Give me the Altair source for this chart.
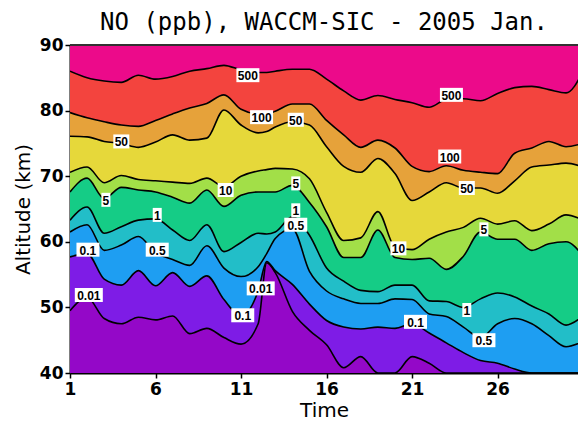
import altair as alt
import pandas as pd

# ---------------- data ----------------
days = [1, 2, 3, 4, 5, 6, 7, 8, 9, 10, 11, 12, 12.5, 13, 14, 15, 16, 17, 18, 19,
        20, 21, 22, 23, 24, 25, 26, 27, 28, 29, 30, 31]

# altitude (km) of each NO contour level along the time axis
c001 = [49.5, 51.5, 48.3, 47.5, 48.5, 48.1, 48.7, 46.0, 46.8, 45.4, 44.4, 47.5, 56.8,
        55.3, 49.4, 46.5, 44.3, 40.8, 42.5, 40.0, 40.0, 42.5, 41.5, 40.0, 40.0, 40.0,
        40.0, 40.0, 40.0, 40.0, 40.0, 40.0]
c01 = [57.7, 58.2, 54.3, 53.4, 55.6, 53.3, 55.3, 53.2, 54.8, 51.2, 48.7, 52.5, 57.0,
       55.6, 53.5, 50.5, 48.0, 47.0, 46.7, 47.0, 46.8, 47.5, 46.1, 44.6, 43.1, 41.9,
       41.5, 40.6, 40.0, 40.0, 40.0, 40.0]
c05 = [61.5, 62.6, 58.7, 59.5, 60.8, 58.3, 57.3, 56.4, 59.4, 56.0, 54.7, 56.2, 58.2,
       60.5, 62.0, 55.5, 52.5, 51.3, 50.6, 50.6, 51.3, 51.2, 49.0, 48.6, 47.0, 45.4,
       47.5, 48.3, 47.5, 45.7, 44.0, 44.8]
c1 = [63.3, 65.3, 61.3, 62.3, 63.3, 63.5, 61.8, 60.2, 62.6, 58.5, 59.9, 61.3, 61.2,
      61.5, 63.8, 61.0, 56.0, 54.0, 52.6, 52.4, 53.4, 53.4, 51.0, 50.9, 50.0, 51.3,
      52.2, 51.6, 50.2, 49.0, 47.3, 48.7]
c5 = [67.6, 69.7, 66.6, 68.3, 67.9, 67.6, 66.8, 65.9, 67.9, 65.4, 67.1, 67.6, 67.6,
      67.6, 68.6, 66.0, 62.3, 57.6, 57.6, 61.8, 57.6, 57.3, 57.5, 55.8, 57.8, 61.5,
      60.4, 60.4, 58.7, 59.7, 60.0, 57.8]
c10 = [70.6, 71.4, 69.0, 70.1, 69.5, 69.3, 69.1, 68.9, 69.7, 68.4, 70.0, 70.8, 71.0,
       71.2, 71.1, 69.6, 64.5, 60.2, 60.6, 64.6, 59.2, 58.8, 60.4, 61.5, 62.2, 63.6,
       62.7, 63.2, 61.7, 62.7, 64.1, 63.3]
c50 = [76.1, 76.0, 75.3, 75.0, 74.4, 75.2, 76.3, 75.5, 75.8, 80.1, 77.8, 76.6, 76.8,
       77.5, 78.3, 77.8, 74.5, 71.5, 70.6, 72.7, 70.4, 66.3, 67.6, 69.0, 68.2, 68.2,
       67.4, 69.3, 71.4, 71.7, 72.0, 71.4]
c100 = [79.7, 78.9, 78.3, 77.8, 77.6, 78.5, 79.5, 80.4, 81.1, 82.4, 80.2, 79.5, 79.5,
        79.9, 81.0, 81.0, 78.5, 76.3, 74.4, 75.5, 74.3, 71.5, 70.7, 71.6, 70.9, 70.6,
        70.4, 73.5, 74.3, 75.3, 74.5, 75.0]
c500 = [86.0, 85.0, 84.5, 84.3, 85.4, 84.8, 85.2, 86.0, 86.4, 86.9, 86.2, 85.8, 85.8,
        86.0, 86.3, 86.3, 84.8, 83.0, 81.6, 82.3, 81.7, 81.2, 80.5, 81.7, 81.8, 81.5,
        82.6, 83.5, 83.7, 83.2, 82.7, 86.0]

levels = ["0.01", "0.1", "0.5", "1", "5", "10", "50", "100", "500"]
band_colors = ["#9408C8", "#7E1CE6", "#1E9EF2", "#22BEC8", "#15CC86",
               "#A2DF48", "#E6D83A", "#E6A23A", "#F3443E", "#EC0A8A"]

alt_min, alt_max = 40, 90
x_ticks = [1, 6, 11, 16, 21, 26]
y_ticks = [40, 50, 60, 70, 80, 90]

# contour labels: text, day, altitude
lab_text = ["500", "500", "100", "50", "50", "100", "50", "10", "5", "5", "1", "1",
            "0.5", "0.1", "0.5", "0.01", "0.01", "0.1", "10", "5", "1", "0.1", "0.5"]
lab_day = [11.4, 23.3, 12.2, 14.2, 4.0, 23.2, 24.2, 10.1, 3.1, 14.2, 6.1, 14.2,
           14.2, 2.05, 6.1, 2.1, 12.15, 11.1, 20.2, 25.2, 24.2, 21.2, 25.2]
lab_alt = [85.4, 82.4, 79.0, 78.6, 75.3, 73.0, 68.2, 67.9, 66.4, 68.9, 64.1, 64.8,
           62.6, 58.8, 58.8, 51.9, 52.9, 48.8, 59.0, 61.9, 49.6, 47.8, 45.0]

# ---------------- tables ----------------
contours = [c001, c01, c05, c1, c5, c10, c50, c100, c500]
bounds = [[alt_min] * len(days)] + contours + [[alt_max] * len(days)]
area_rows = []
for i in range(len(bounds) - 1):
    for d, lo, hi in zip(days, bounds[i], bounds[i + 1]):
        area_rows.append({"day": d, "lo": lo, "hi": hi, "band": i})
area_df = pd.DataFrame(area_rows)

line_rows = []
for lev, vals in zip(levels, contours):
    for d, a in zip(days, vals):
        line_rows.append({"day": d, "alt": a, "level": lev})
line_df = pd.DataFrame(line_rows)

lab_df = pd.DataFrame({"text": lab_text, "day": lab_day, "alt": lab_alt})
lab_df["n"] = lab_df["text"].str.len()

W, H = 508, 328

xscale = alt.Scale(domain=[1, 30.7], nice=False, zero=False)
yscale = alt.Scale(domain=[alt_min, alt_max], nice=False, zero=False)

xaxis = alt.Axis(values=x_ticks, title="Time", grid=False, labelFont="DejaVu Sans",
                 labelFontWeight="bold", labelFontSize=17, labelColor="black",
                 titleFont="DejaVu Sans", titleFontWeight="normal", titleFontSize=20,
                 titleColor="black", tickSize=5, tickWidth=1.5, tickColor="black",
                 domainColor="black", domainWidth=2, labelPadding=3, titlePadding=3,
                 labelFlush=False)
yaxis = alt.Axis(values=y_ticks, title="Altitude (km)", grid=False,
                 labelFont="DejaVu Sans", labelFontWeight="bold", labelFontSize=17,
                 labelColor="black", titleFont="DejaVu Sans", titleFontWeight="normal",
                 titleFontSize=20, titleColor="black", tickSize=5, tickWidth=1.5,
                 tickColor="black", domainColor="black", domainWidth=2,
                 labelPadding=2, titlePadding=6, labelFlush=False)

areas = alt.Chart(area_df).mark_area(interpolate="monotone", clip=True).encode(
    x=alt.X("day:Q", scale=xscale, axis=xaxis),
    y=alt.Y("lo:Q", scale=yscale, axis=yaxis),
    y2="hi:Q",
    color=alt.Color("band:N", scale=alt.Scale(domain=list(range(10)), range=band_colors),
                    legend=None),
)

lines = alt.Chart(line_df).mark_line(interpolate="monotone", color="black",
                                     strokeWidth=1.6, clip=True).encode(
    x=alt.X("day:Q", scale=xscale),
    y=alt.Y("alt:Q", scale=yscale),
    detail="level:N",
)

box_layers = []
for n, w in [(1, 9), (2, 16), (3, 23), (4, 28)]:
    box_layers.append(
        alt.Chart(lab_df).transform_filter(alt.datum.n == n).mark_rect(
            color="white", width=w, height=14).encode(
            x=alt.X("day:Q", scale=xscale), y=alt.Y("alt:Q", scale=yscale))
    )

texts = alt.Chart(lab_df).mark_text(font="Liberation Sans", fontWeight="bold",
                                    fontSize=12, color="black", baseline="middle",
                                    align="center", dy=1).encode(
    x=alt.X("day:Q", scale=xscale), y=alt.Y("alt:Q", scale=yscale), text="text:N")

top_rule = alt.Chart(lab_df).mark_rule(color="#333333", strokeWidth=1.5).encode(
    x=alt.value(0), x2=alt.value(W), y=alt.value(0))

chart = alt.layer(areas, lines, *box_layers, texts, top_rule).properties(
    width=W, height=H,
    title=alt.TitleParams("NO (ppb), WACCM-SIC - 2005 Jan.", font="DejaVu Sans Mono",
                          fontSize=24, fontWeight="normal", color="black",
                          anchor="middle", frame="group", offset=13, dy=12),
    autosize=alt.AutoSizeParams(type="none"),
    padding={"left": 62, "top": 37, "right": 0, "bottom": 49},
).configure_view(stroke=None)

chart.save("out.html", embed_options={"renderer": "svg", "actions": False})
